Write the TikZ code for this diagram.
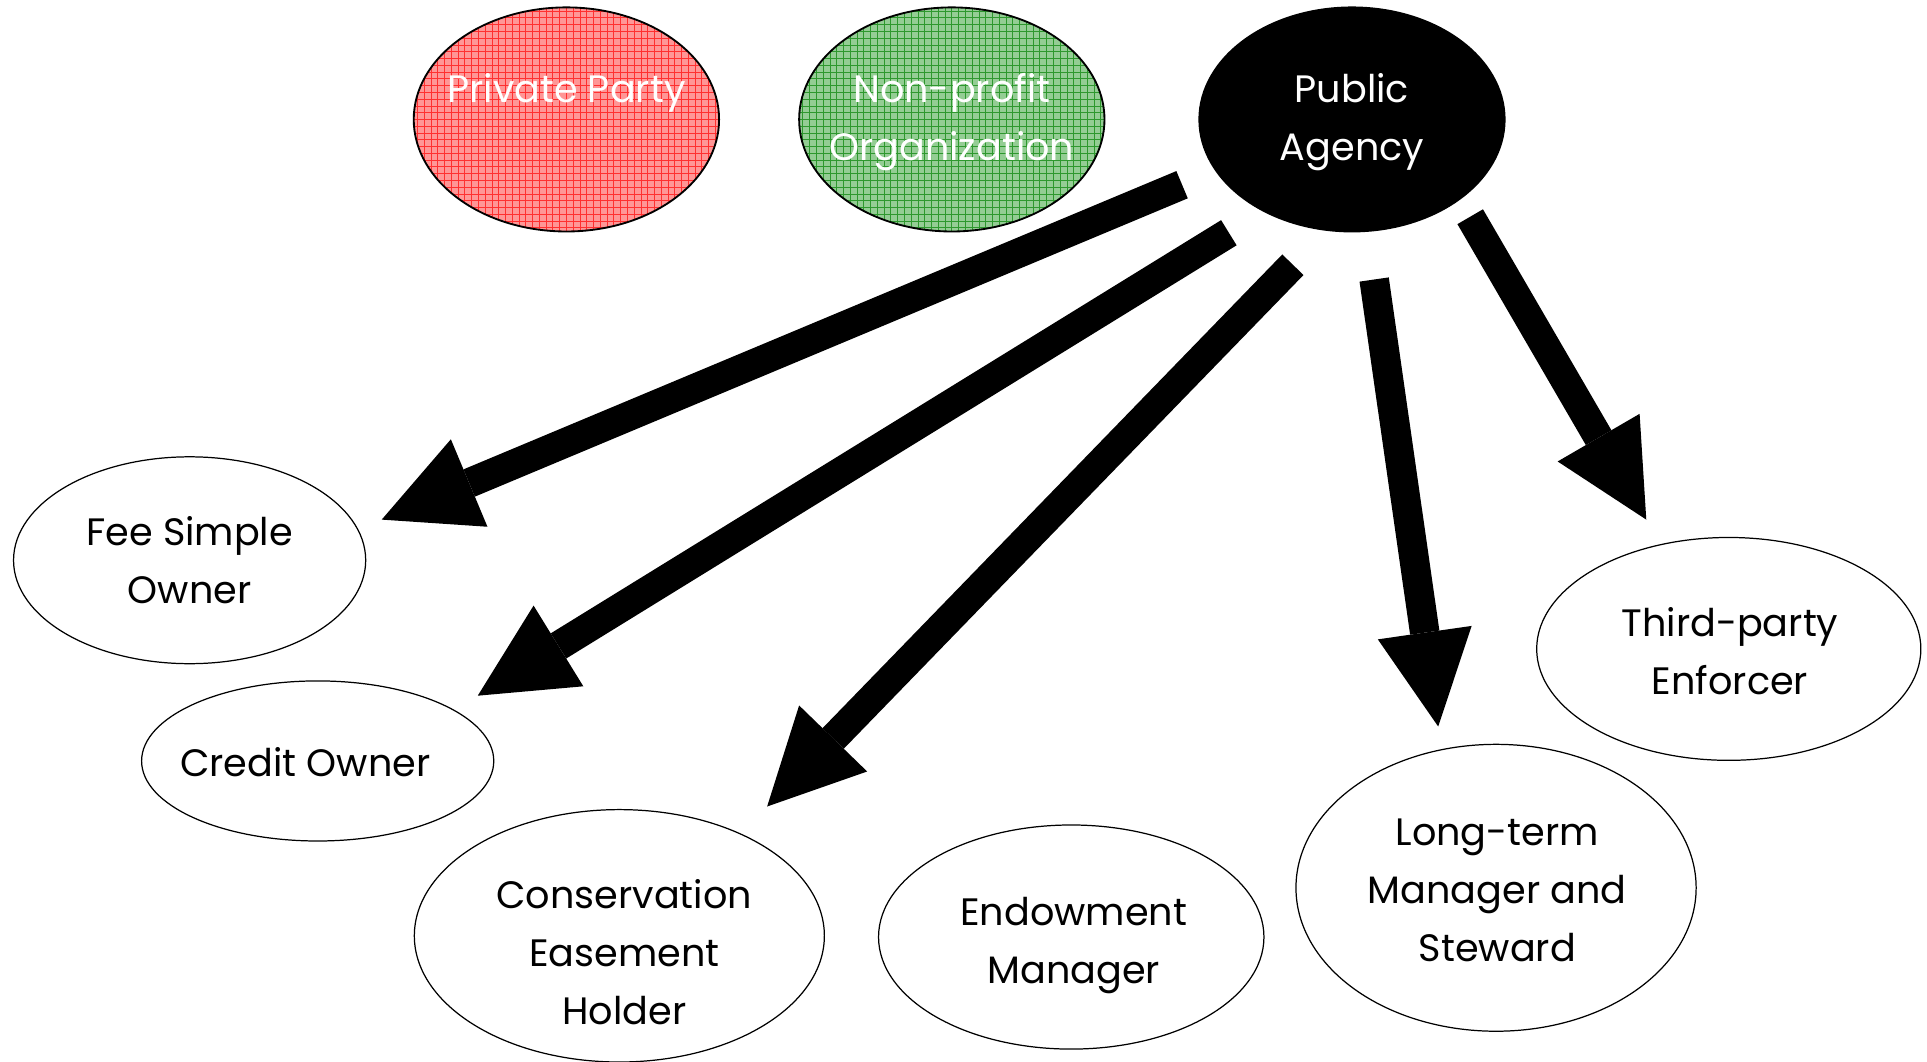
\documentclass[tikz,border=0pt]{standalone}
\usepackage{fontspec}
\setmainfont{Poppins}
\usetikzlibrary{shapes.geometric,arrows.meta,calc}
\definecolor{redfill}{HTML}{FF9696}
\definecolor{redline}{HTML}{FF3030}
\definecolor{greenfill}{HTML}{94CD94}
\definecolor{greenline}{HTML}{2E982E}
\tikzset{
  oval/.style={ellipse, draw=black, line width=1pt, inner sep=0pt},
  topoval/.style={oval, line width=1.5pt},
  gridfill/.style 2 args={path picture={
      \fill[#1] (path picture bounding box.south west) rectangle (path picture bounding box.north east);
      \draw[#2, line width=0.6pt, step=5.5pt] (path picture bounding box.south west) grid (path picture bounding box.north east);}},
  txt/.style={align=center, font=\fontsize{31}{47}\selectfont, inner sep=0pt, anchor=base},
  bigarrow/.style={line width=24pt, -{Triangle[length=77pt,width=77pt,line width=0pt]}},
}
\begin{document}
\begin{tikzpicture}[x=1pt,y=-1pt]
\useasboundingbox (0,0) rectangle (1565,862);
% top row
\node[topoval, gridfill={redfill}{redline}, minimum width=248pt, minimum height=182pt] (pp) at (460,97) {};
\node[topoval, gridfill={greenfill}{greenline}, minimum width=248pt, minimum height=182pt] (np) at (773,97) {};
\node[topoval, fill=black, minimum width=248pt, minimum height=182pt] (pa) at (1098,97) {};
\node[txt, text=white] (ppT) at (460,83) {Private Party};
\node[txt, text=white] (npT) at (773,130) {Non-profit\\Organization};
\node[txt, text=white] (paT) at (1098,130) {Public\\Agency};
% targets
\node[oval, minimum width=286pt, minimum height=168pt] (fee) at (154,455) {};
\node[oval, minimum width=286pt, minimum height=130pt] (credit) at (258,618) {};
\node[oval, minimum width=333pt, minimum height=205pt] (cons) at (503,760) {};
\node[oval, minimum width=313pt, minimum height=182pt] (endow) at (870,761) {};
\node[oval, minimum width=325pt, minimum height=233pt] (long) at (1215,721) {};
\node[oval, minimum width=312pt, minimum height=181pt] (third) at (1404,527) {};
\node[txt] (feeT) at (154,490) {Fee Simple\\Owner};
\node[txt] (creditT) at (248,631) {Credit Owner};
\node[txt] (consT) at (507,832) {Conservation\\Easement\\Holder};
\node[txt] (endowT) at (872,799) {Endowment\\Manager};
\node[txt] (longT) at (1216,781) {Long-term\\Manager and\\Steward};
\node[txt] (thirdT) at (1405,564) {Third-party\\Enforcer};
% arrow ends
\coordinate (s1) at ($(pa)+(-138,53)$);
\coordinate (t1) at ($(fee)+(156,-33)$);
\coordinate (s2) at ($(pa)+(-100,92)$);
\coordinate (t2) at ($(credit)+(130,-53)$);
\coordinate (s3) at ($(pa)+(-48,118)$);
\coordinate (t3) at ($(cons)+(120,-105)$);
\coordinate (s4) at ($(pa)+(18,130)$);
\coordinate (t4) at ($(long)+(-47,-131)$);
\coordinate (s5) at ($(pa)+(96,79)$);
\coordinate (t5) at ($(third)+(-67,-105)$);
\draw[bigarrow] (s1) -- (t1);
\draw[bigarrow] (s2) -- (t2);
\draw[bigarrow] (s3) -- (t3);
\draw[bigarrow] (s4) -- (t4);
\draw[bigarrow] (s5) -- (t5);
\end{tikzpicture}
\end{document}
